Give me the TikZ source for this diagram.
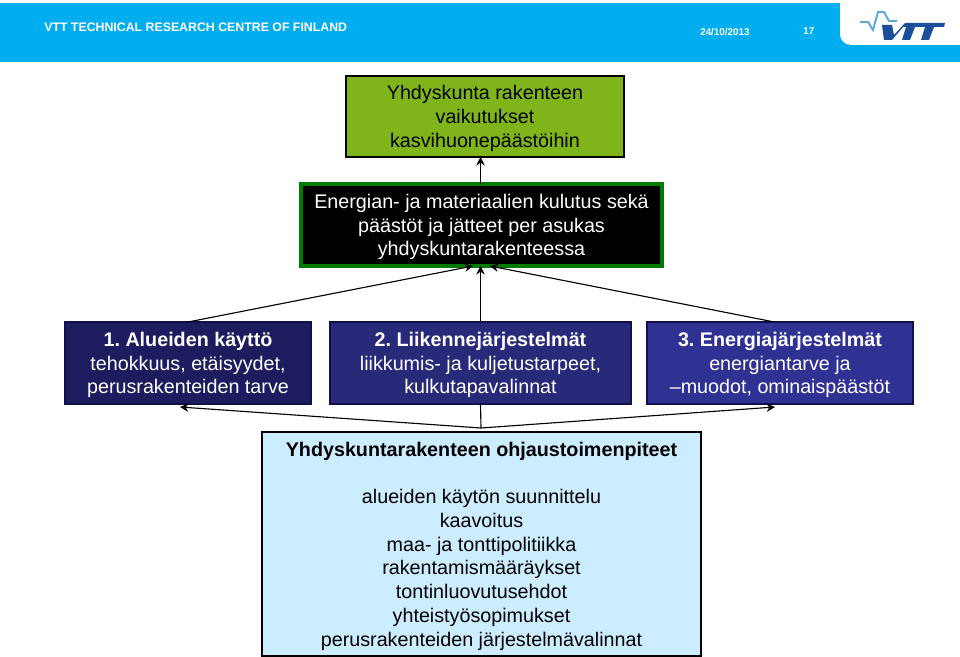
\documentclass[tikz,border=0pt]{standalone}
\usepackage{fontspec}
\setmainfont{Liberation Sans}
\usetikzlibrary{arrows.meta}
\definecolor{vttblue}{HTML}{00AEEF}
\definecolor{vttdark}{HTML}{1B4F9C}
\definecolor{vttlight}{HTML}{5FA8DC}
\definecolor{vihreafill}{HTML}{7FB51A}
\definecolor{mustareuna}{HTML}{007A00}
\definecolor{sini1}{HTML}{1C1C5E}
\definecolor{sini2}{HTML}{29297A}
\definecolor{sini3}{HTML}{2F3193}
\definecolor{sinireuna}{HTML}{10104A}
\definecolor{vaalea}{HTML}{CCECFF}
\tikzset{
	px/.style={x=0.025cm,y=-0.025cm},
	tekstibox/.style={draw=black,line width=1pt,inner sep=0,outer sep=0,align=center,text depth=0pt,font=\frenchspacing\fontsize{14.03}{16.9}\selectfont},
	sinibox/.style={tekstibox,draw=sinireuna,line width=0.8pt,text=white,minimum height=82*0.025cm},
	otsikkoteksti/.style={anchor=west,text=white,inner sep=0,font=\fontsize{7}{9}\selectfont\bfseries},
	nuoli/.style={draw=black,line width=0.8pt,-{Stealth[length=6pt,width=6pt]}},
	viiva/.style={draw=black,line width=0.8pt}
}
\begin{document}
\begin{tikzpicture}[px]
	\useasboundingbox (0,0) rectangle (960,657);
	\fill[vttblue] (0,3) rectangle (960,62);
	\fill[white] (960,3) -- (840,3) -- (840,33) .. controls (840,41) and (845,45) .. (852,45) -- (960,45) -- cycle;
	\node[otsikkoteksti,font=\fontsize{8.77}{11}\selectfont\bfseries] (otsikko) at (44,27) {VTT TECHNICAL RESEARCH CENTRE OF FINLAND};
	\node[otsikkoteksti] (paiva) at (700,32) {24/10/2013};
	\node[otsikkoteksti] (sivu) at (803,31) {17};
	% logo
	\draw[vttlight,line width=1.4pt] (860,22) -- (868,22) -- (873,30) -- (878,12) -- (884,12) -- (889,21) -- (897,21);
	\fill[vttdark] (882,25) -- (892,25) -- (894,35) -- (905,23) -- (945,23) -- (944,27) -- (934,27) -- (929,40) -- (921,40) -- (925,27) -- (915,27) -- (910,40) -- (902,40) -- (906,27) -- (903,27) -- (892,40) -- (884,40) -- cycle;
	% laatikot
	\node[tekstibox,fill=vihreafill,minimum width=278*0.025cm,minimum height=81*0.025cm] (vihrea) at (485,116.5) {Yhdyskunta rakenteen\\vaikutukset\\kasvihuonepäästöihin};
	\node[tekstibox,draw=mustareuna,line width=3pt,fill=black,text=white,minimum width=361*0.025cm,minimum height=82*0.025cm] (musta) at (481.5,225) {Energian- ja materiaalien kulutus sekä\\päästöt ja jätteet per asukas\\yhdyskuntarakenteessa};
	\node[sinibox,fill=sini1,minimum width=246*0.025cm] (alue) at (188,363) {\textbf{1. Alueiden käyttö}\\tehokkuus, etäisyydet,\\perusrakenteiden tarve};
	\node[sinibox,fill=sini2,minimum width=301*0.025cm] (liikenne) at (480.5,363) {\textbf{2. Liikennejärjestelmät}\\liikkumis- ja kuljetustarpeet,\\kulkutapavalinnat};
	\node[sinibox,fill=sini3,minimum width=266*0.025cm] (energia) at (780,363) {\textbf{3. Energiajärjestelmät}\\energiantarve ja\\–muodot, ominaispäästöt};
	\node[tekstibox,fill=vaalea,minimum width=439*0.025cm,minimum height=224*0.025cm] (ohjaus) at (481.5,544) {\textbf{Yhdyskuntarakenteen ohjaustoimenpiteet}\\[16.9pt]alueiden käytön suunnittelu\\kaavoitus\\maa- ja tonttipolitiikka\\rakentamismääräykset\\tontinluovutusehdot\\yhteistyösopimukset\\perusrakenteiden järjestelmävalinnat};
	% nuolet
	\coordinate (liitos) at (481,428);
	\coordinate (vasenkarki) at (180,407);
	\coordinate (oikeakarki) at (775,407);
	\draw[nuoli] (musta.north -| liikenne.north) -- (vihrea.south -| liikenne.north);
	\draw[nuoli] (liikenne.north) -- (musta.south -| liikenne.north);
	\draw[nuoli] (alue.north) -- ([xshift=-6pt]musta.south);
	\draw[nuoli] ([xshift=-4pt]energia.north) -- ([xshift=6pt]musta.south);
	\draw[viiva] (liikenne.south) -- (liitos);
	\draw[nuoli] (liitos) -- (vasenkarki);
	\draw[nuoli] (liitos) -- (oikeakarki);
\end{tikzpicture}
\end{document}
